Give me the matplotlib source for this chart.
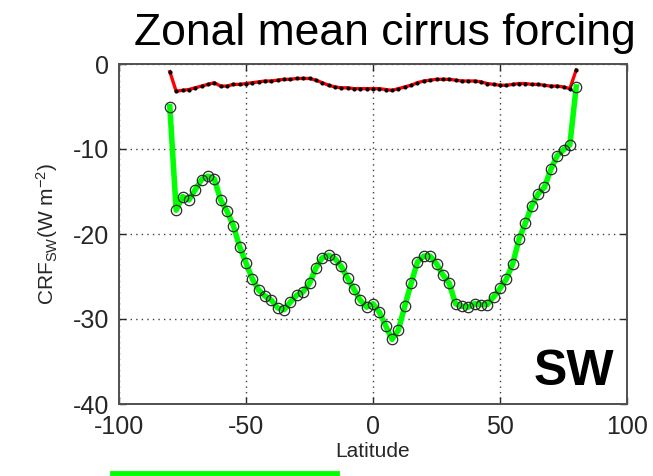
import matplotlib
matplotlib.use("Agg")
import matplotlib.pyplot as plt
from matplotlib.lines import Line2D

plt.rcParams["font.family"] = ["Liberation Sans", "DejaVu Sans"]
plt.rcParams["mathtext.fontset"] = "custom"
plt.rcParams["mathtext.rm"] = "Liberation Sans"
plt.rcParams["mathtext.it"] = "Liberation Sans:italic"
plt.rcParams["axes.unicode_minus"] = False

# zonal-mean latitude grid (deg)
latitude = [
    -80, -77.5, -75, -72.5, -70, -67.5, -65, -62.5, -60, -57.5,
    -55, -52.5, -50, -47.5, -45, -42.5, -40, -37.5, -35, -32.5,
    -30, -27.5, -25, -22.5, -20, -17.5, -15, -12.5, -10, -7.5,
    -5, -2.5, 0, 2.5, 5, 7.5, 10, 12.5, 15, 17.5,
    20, 22.5, 25, 27.5, 30, 32.5, 35, 37.5, 40, 42.5,
    45, 47.5, 50, 52.5, 55, 57.5, 60, 62.5, 65, 67.5,
    70, 72.5, 75, 77.5, 80,
]

# reference run (red)
crf_ref = [
    -0.9, -3.2, -3.1, -3.0, -2.8, -2.6, -2.4, -2.2, -2.6, -2.6,
    -2.4, -2.4, -2.3, -2.2, -2.1, -2.0, -2.0, -1.9, -1.8, -1.8,
    -1.7, -1.7, -1.7, -1.9, -2.2, -2.5, -2.7, -2.8, -2.8, -2.9,
    -2.9, -2.9, -2.9, -2.9, -3.0, -3.1, -2.9, -2.7, -2.5, -2.2,
    -2.0, -1.9, -1.8, -1.8, -1.8, -1.9, -2.0, -2.0, -2.0, -2.1,
    -2.3, -2.4, -2.5, -2.5, -2.4, -2.3, -2.3, -2.4, -2.4, -2.5,
    -2.6, -2.6, -2.7, -2.9, -0.7,
]

# cirrus shortwave forcing (green)
crf_sw = [
    -5.0, -17.2, -15.6, -16.0, -14.8, -13.6, -13.2, -13.5, -16.0, -17.3,
    -19.0, -21.5, -23.4, -25.3, -26.6, -27.3, -27.8, -28.7, -28.9, -28.0,
    -27.2, -26.8, -25.8, -24.0, -22.8, -22.5, -22.9, -23.8, -25.2, -26.5,
    -27.8, -28.6, -28.2, -29.2, -30.8, -32.4, -31.3, -28.5, -25.8, -23.3,
    -22.6, -22.6, -23.5, -24.8, -25.8, -28.2, -28.5, -28.6, -28.2, -28.3,
    -28.3, -27.4, -26.4, -25.3, -23.5, -20.6, -18.7, -16.7, -15.3, -14.5,
    -12.4, -10.8, -10.1, -9.5, -2.7,
]

x_ticks = [-100, -50, 0, 50, 100]
y_ticks = [-40, -30, -20, -10, 0]

W, H = 653, 476


def gerar_grafico():
    fig = plt.figure(figsize=(W / 100, H / 100), dpi=100)
    ax = fig.add_axes([119 / W, 1 - 404 / H, (627 - 119) / W, (404 - 64) / H])

    ax.plot(latitude, crf_sw, color="#00ff00", lw=4, zorder=3)
    ax.plot(latitude, crf_sw, ls="none", marker="o", ms=7.5, mfc="none",
            mec="#2a2a2a", mew=0.9, zorder=4)
    ax.plot(latitude, crf_ref, color="#ff0000", lw=2.4, zorder=3)
    ax.plot(latitude, crf_ref, ls="none", marker=".", ms=4, color="black",
            zorder=4)

    ax.set_xlim(-100, 100)
    ax.set_ylim(-40, 0)
    ax.set_xticks(x_ticks)
    ax.set_yticks(y_ticks)
    ax.tick_params(direction="in", length=5, width=1, colors="#262626",
                   labelsize=18, top=True, right=True)
    ax.tick_params(axis="x", pad=8)
    ax.tick_params(axis="y", pad=7)
    for s in ax.spines.values():
        s.set_color("#505050")
        s.set_linewidth(1.4)
    ax.grid(True, ls=(0, (1, 3)), color="#404040", lw=1)
    ax.set_axisbelow(True)

    ax.set_xlabel("Latitude", fontsize=15, color="#262626", labelpad=2)
    ax.set_ylabel(r"CRF$_{\mathrm{SW}}$(W m$^{\mathrm{-2}}$)", fontsize=15,
                  color="#262626", labelpad=9)

    ax.text(0.975, 0.055, "SW", transform=ax.transAxes, ha="right",
            va="baseline", fontsize=36, fontweight="bold", color="black")

    fig.text(385 / W, 1 - 45 / H, "Zonal mean cirrus forcing", ha="center",
             va="baseline", fontsize=32, color="black")

    fig.add_artist(Line2D([112 / W, 337 / W], [1 - 473 / H] * 2,
                          color="#00ff00", lw=3.5))

    fig.savefig("out.png", dpi=100)


def main():
    gerar_grafico()


if __name__ == "__main__":
    main()
